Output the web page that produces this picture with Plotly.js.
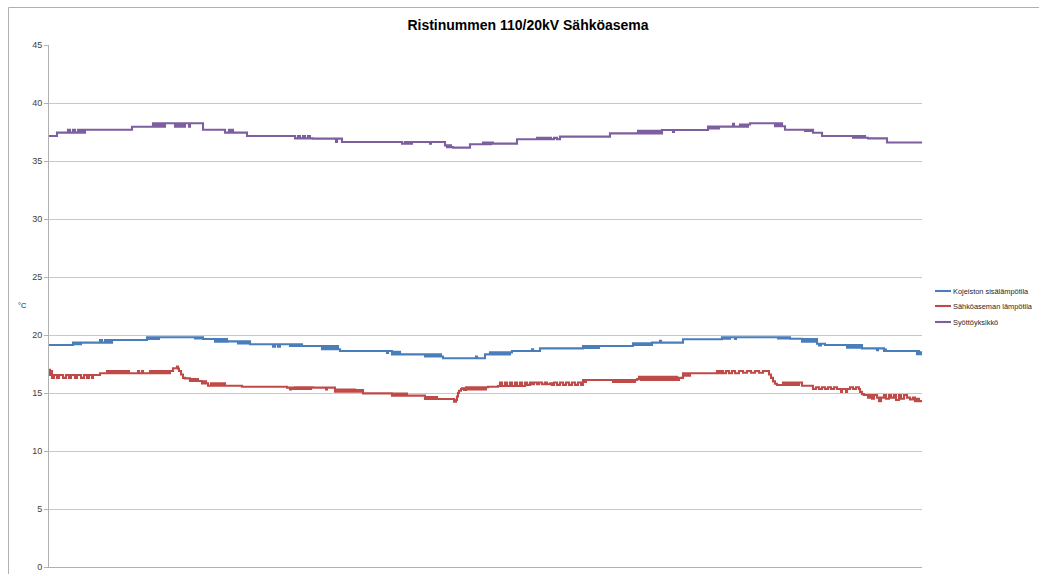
<!DOCTYPE html>
<html>
<head>
<meta charset="utf-8">
<script src="https://cdn.plot.ly/plotly-3.0.1.min.js"></script>
<style>html,body{margin:0;padding:0;background:#fff;}#chart{width:1039px;height:574px;}</style>
</head>
<body>
<div id="chart"></div>
<script>
// Series names
const seriesNames = ["Kojeiston sisälämpötila", "Sähköaseman lämpötila", "Syöttöyksikkö"];
const chartTitle = "Ristinummen 110/20kV Sähköasema";
const yTicks = [0, 5, 10, 15, 20, 25, 30, 35, 40, 45];

// [sample index, °C] step readings
const kojeisto = [[0,19.14],[24,19.34],[26,19.2],[28,19.34],[30,19.2],[32,19.34],[34,19.34],[51,19.57],[53,19.34],[56,19.57],[58,19.34],[60,19.57],[61,19.34],[63,19.57],[98,19.8],[100,19.65],[102,19.8],[104,19.65],[106,19.8],[108,19.65],[110,19.8],[146,19.7],[148,19.8],[150,19.7],[152,19.8],[154,19.66],[166,19.42],[168,19.66],[170,19.42],[172,19.66],[174,19.42],[176,19.66],[178,19.42],[179,19.45],[189,19.28],[191,19.45],[193,19.28],[195,19.45],[197,19.28],[199,19.45],[201,19.2],[224,19.0],[226,19.2],[229,19.0],[231,19.2],[241,19.05],[243,19.2],[245,19.05],[247,19.2],[249,19.05],[251,19.2],[253,19.05],[273,18.77],[275,19.05],[277,18.77],[279,19.05],[281,18.77],[283,19.05],[285,18.77],[287,19.05],[289,18.77],[291,18.62],[338,18.45],[339,18.62],[343,18.33],[345,18.55],[347,18.33],[349,18.55],[351,18.33],[353,18.33],[376,18.15],[378,18.33],[380,18.15],[382,18.33],[384,18.15],[386,18.33],[388,18.15],[390,18.33],[392,18.15],[394,17.99],[427,18.15],[428,17.99],[436,18.33],[441,18.5],[443,18.33],[445,18.5],[447,18.33],[449,18.5],[451,18.33],[453,18.5],[455,18.33],[457,18.5],[459,18.33],[461,18.5],[463,18.62],[483,18.77],[484,18.62],[491,18.85],[534,19.05],[536,18.88],[538,19.05],[540,18.88],[542,19.05],[544,18.88],[546,19.05],[548,18.88],[550,19.05],[584,19.28],[586,19.14],[588,19.28],[590,19.14],[592,19.28],[594,19.14],[596,19.28],[598,19.14],[600,19.28],[602,19.14],[603,19.34],[611,19.5],[612,19.34],[634,19.63],[673,19.8],[675,19.68],[677,19.8],[679,19.68],[681,19.8],[683,19.8],[686,19.65],[687,19.8],[729,19.7],[731,19.8],[733,19.7],[735,19.8],[737,19.7],[739,19.8],[741,19.68],[753,19.42],[755,19.66],[757,19.42],[759,19.66],[761,19.42],[763,19.66],[765,19.42],[767,19.66],[768,19.25],[770,19.1],[772,19.25],[776,19.14],[798,18.9],[800,19.14],[802,18.9],[804,19.14],[806,18.9],[808,19.14],[810,18.9],[812,19.14],[813,18.85],[828,18.7],[829,18.85],[835,18.62],[836,18.75],[837,18.62],[868,18.35],[869,18.62],[870,18.35],[871,18.5],[872,18.35],[873,18.35]];

const asema = [[0,17.0],[1,16.55],[2,16.9],[3,16.3],[5,16.55],[8,16.3],[10,16.55],[14,16.3],[17,16.55],[20,16.3],[22,16.55],[26,16.3],[28,16.55],[32,16.3],[35,16.55],[38,16.3],[40,16.55],[43,16.3],[44,16.55],[51,16.7],[58,16.9],[60,16.7],[62,16.9],[64,16.7],[66,16.9],[68,16.7],[70,16.9],[72,16.7],[74,16.9],[76,16.7],[78,16.9],[80,16.7],[89,16.9],[90,16.7],[93,16.9],[94,16.7],[101,16.9],[103,16.7],[105,16.9],[107,16.7],[109,16.9],[111,16.7],[113,16.9],[115,16.7],[117,16.9],[119,16.7],[121,16.9],[124,17.13],[128,17.27],[129,17.1],[130,16.9],[132,16.6],[134,16.3],[136,16.26],[141,16.03],[143,16.2],[145,16.03],[147,16.2],[149,16.03],[153,15.83],[155,16.0],[157,15.83],[159,15.63],[162,15.83],[164,15.63],[166,15.83],[168,15.63],[170,15.83],[172,15.63],[174,15.83],[176,15.63],[193,15.54],[238,15.46],[241,15.3],[242,15.46],[244,15.34],[246,15.5],[248,15.34],[250,15.5],[252,15.34],[254,15.5],[256,15.34],[258,15.5],[260,15.34],[262,15.5],[264,15.46],[277,15.3],[278,15.46],[286,15.11],[288,15.3],[290,15.11],[292,15.3],[294,15.11],[296,15.3],[298,15.11],[300,15.3],[302,15.11],[304,15.3],[306,15.11],[308,15.25],[310,15.11],[312,15.25],[314,14.97],[343,14.77],[345,14.95],[347,14.77],[349,14.95],[351,14.77],[353,14.95],[355,14.77],[357,14.95],[358,14.77],[376,14.48],[378,14.65],[380,14.48],[382,14.65],[384,14.48],[386,14.65],[388,14.48],[405,14.25],[407,14.4],[408,14.7],[409,15.0],[410,15.2],[412,15.35],[413,15.4],[415,15.26],[417,15.5],[419,15.3],[421,15.5],[423,15.3],[425,15.5],[427,15.3],[429,15.5],[431,15.3],[433,15.5],[435,15.3],[437,15.5],[439,15.54],[449,15.6],[451,15.9],[453,15.6],[456,15.9],[458,15.6],[461,15.9],[463,15.6],[466,15.9],[468,15.6],[471,15.9],[473,15.6],[476,15.9],[478,15.7],[481,15.9],[483,15.75],[485,15.9],[488,15.75],[490,15.9],[493,15.75],[496,15.9],[498,15.75],[501,15.83],[503,15.7],[505,15.9],[508,15.7],[511,15.9],[514,15.7],[517,15.9],[520,15.7],[523,15.9],[526,15.7],[529,15.9],[532,15.7],[534,16.12],[536,15.95],[537,16.12],[564,15.95],[566,16.12],[568,15.95],[570,16.12],[572,15.95],[574,16.12],[576,15.95],[578,16.12],[580,15.95],[582,16.12],[584,15.95],[586,16.12],[588,16.2],[590,16.4],[592,16.12],[594,16.4],[596,16.12],[598,16.4],[600,16.12],[602,16.4],[604,16.12],[606,16.4],[608,16.12],[610,16.4],[612,16.12],[614,16.4],[616,16.12],[618,16.4],[620,16.12],[622,16.4],[624,16.12],[626,16.4],[628,16.12],[630,16.3],[634,16.7],[636,16.5],[638,16.7],[640,16.5],[641,16.7],[668,16.9],[670,16.7],[672,16.9],[674,16.7],[677,16.9],[680,16.7],[683,16.9],[686,16.7],[690,16.9],[694,16.75],[698,16.9],[702,16.75],[706,16.9],[710,16.75],[714,16.9],[718,16.9],[720,16.6],[722,16.3],[724,16.0],[726,15.8],[728,15.69],[734,15.9],[736,15.69],[738,15.9],[740,15.69],[742,15.9],[744,15.69],[746,15.9],[748,15.69],[750,15.9],[753,15.63],[764,15.34],[767,15.5],[770,15.34],[773,15.5],[776,15.34],[779,15.5],[782,15.34],[785,15.5],[788,15.34],[792,15.1],[793,15.34],[797,15.1],[798,15.34],[801,15.5],[804,15.34],[807,15.5],[810,15.34],[811,15.1],[813,14.9],[815,14.83],[819,14.6],[821,14.83],[823,14.5],[825,14.83],[828,14.6],[830,14.3],[832,14.6],[835,14.83],[837,14.5],[840,14.83],[842,14.6],[845,14.83],[847,14.4],[850,14.83],[852,14.5],[855,14.83],[858,14.6],[861,14.45],[864,14.6],[866,14.3],[868,14.5],[870,14.3],[873,14.3]];

const syotto = [[0,37.15],[8,37.45],[19,37.7],[21,37.45],[24,37.7],[26,37.45],[29,37.7],[31,37.45],[33,37.7],[35,37.45],[36,37.7],[83,37.95],[104,38.25],[106,37.95],[108,38.25],[110,37.95],[112,38.25],[114,37.95],[116,38.25],[126,37.95],[128,38.25],[130,37.95],[132,38.25],[134,37.95],[136,38.25],[140,37.95],[141,38.25],[154,37.7],[176,37.45],[180,37.7],[181,37.45],[183,37.7],[184,37.45],[198,37.15],[246,36.95],[249,37.15],[251,36.95],[254,37.15],[256,36.95],[259,37.15],[261,36.95],[264,36.93],[287,36.64],[288,36.93],[293,36.64],[353,36.5],[356,36.64],[358,36.5],[360,36.64],[362,36.5],[363,36.64],[381,36.5],[382,36.64],[396,36.35],[398,36.2],[400,36.35],[402,36.2],[404,36.15],[421,36.45],[434,36.6],[436,36.45],[438,36.6],[440,36.45],[442,36.6],[444,36.5],[468,36.87],[488,36.99],[490,36.87],[492,36.99],[494,36.87],[496,36.99],[498,36.87],[500,36.99],[502,36.87],[505,36.99],[508,36.87],[511,37.1],[561,37.38],[589,37.6],[591,37.38],[593,37.6],[595,37.38],[597,37.6],[599,37.38],[601,37.6],[603,37.38],[605,37.6],[607,37.38],[609,37.6],[611,37.38],[613,37.67],[624,37.5],[625,37.67],[659,37.96],[661,37.8],[663,37.96],[665,37.8],[667,37.96],[669,37.8],[670,37.96],[684,38.2],[685,37.96],[691,38.15],[693,37.96],[695,38.15],[697,37.96],[699,38.15],[701,38.25],[726,38.0],[728,38.25],[730,38.0],[732,38.25],[733,38.0],[736,37.7],[756,37.6],[758,37.7],[760,37.6],[762,37.7],[764,37.44],[773,37.16],[804,37.0],[806,37.16],[808,37.0],[810,37.16],[812,37.0],[814,37.16],[816,37.0],[819,36.95],[838,36.6],[873,36.6]];

const colors = ["#4A7EBB", "#BE4B48", "#7D5FA0"];
const seriesData = [kojeisto, asema, syotto];

// Plot area in pixels
const L = 49, R = 922, T = 45, B = 567, W = 1039, H = 574;
const px = x => (x - L) / (R - L);
const py = y => (B - y) / (B - T);

const traces = seriesData.map((s, i) => ({
  type: "scatter",
  mode: "lines",
  name: seriesNames[i],
  x: s.map(p => p[0]),
  y: s.map(p => p[1]),
  line: {color: colors[i], width: 2.1, shape: "hv"},
  showlegend: false,
  hoverinfo: "skip"
}));

const legendY = [291, 306, 322];
const shapes = [
  {type: "rect", xref: "paper", yref: "paper", x0: px(8.5), x1: px(1060), y0: py(600), y1: py(7.5),
   line: {color: "#b0b0b0", width: 1}, fillcolor: "rgba(0,0,0,0)", layer: "below"}
];
const annotations = [
  {xref: "paper", yref: "paper", x: px(22), y: py(305), text: "°C", showarrow: false,
   font: {family: "Liberation Sans", size: 7.5, color: "#262626"}, xanchor: "center", yanchor: "middle"}
];
seriesNames.forEach((n, i) => {
  shapes.push({type: "line", xref: "paper", yref: "paper", x0: px(935), x1: px(951),
    y0: py(legendY[i]), y1: py(legendY[i]), line: {color: colors[i], width: 2.1}});
  annotations.push({xref: "paper", yref: "paper", x: px(951), y: py(legendY[i]), text: n,
    showarrow: false, xanchor: "left", yanchor: "middle",
    font: {family: "Liberation Sans", size: 7.4, color: "#262626"}});
});

const layout = {
  width: W, height: H,
  margin: {l: L, r: W - R, t: T, b: H - B, pad: 0},
  paper_bgcolor: "#ffffff", plot_bgcolor: "#ffffff",
  title: {text: "<b>" + chartTitle + "</b>", xref: "container", yref: "container",
    x: 528 / W, y: 1 - 25 / H, xanchor: "center", yanchor: "middle",
    font: {family: "Liberation Sans", size: 14, color: "#000000"}},
  xaxis: {range: [0, 873], showgrid: false, zeroline: false, showticklabels: false, ticks: "",
    showline: true, linecolor: "#b0b0b0", linewidth: 1, automargin: false, fixedrange: true},
  yaxis: {range: [0, 45], tickvals: yTicks, ticktext: yTicks.map(String), showgrid: true,
    gridcolor: "#c8c8c8", gridwidth: 1, zeroline: false, showline: true, linecolor: "#b0b0b0",
    linewidth: 1, ticks: "outside", ticklen: 4, tickcolor: "#b0b0b0",
    tickfont: {family: "Liberation Sans", size: 9, color: "#404040"}, automargin: false, fixedrange: true},
  shapes: shapes,
  annotations: annotations,
  showlegend: false
};

Plotly.newPlot("chart", traces, layout, {staticPlot: true, displayModeBar: false});
</script>
</body>
</html>
